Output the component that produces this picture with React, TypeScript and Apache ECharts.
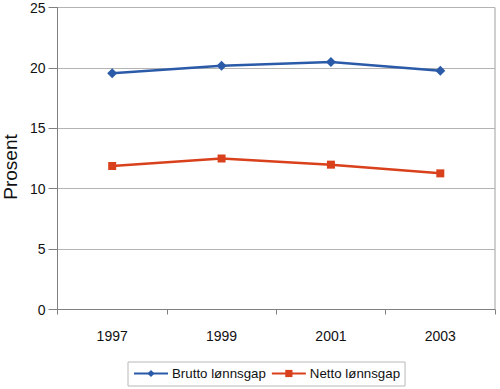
import React, { useEffect, useRef } from "react";
import * as echarts from "echarts";

const years = ["1997", "1999", "2001", "2003"];
const brutto = [19.55, 20.18, 20.49, 19.77];
const netto = [11.88, 12.5, 11.99, 11.27];
const seriesNames = ["Brutto lønnsgap", "Netto lønnsgap"];
const yTitle = "Prosent";

const FONT = "'Liberation Sans', Arial, sans-serif";

export default function App() {
  const ref = useRef<HTMLDivElement>(null);
  useEffect(() => {
    if (!ref.current) return;
    const chart = echarts.init(ref.current, undefined, { renderer: "svg" });
    chart.setOption({
      animation: false,
      backgroundColor: "#ffffff",
      textStyle: { fontFamily: FONT },
      grid: {
        left: 57.5,
        right: 5,
        top: 7.5,
        bottom: 79.5,
        containLabel: false,
        outerBoundsMode: "none",
        show: true,
        borderColor: "#a0a0a0",
        borderWidth: 1,
      },
      graphic: [
        {
          type: "text",
          x: 10,
          y: 167,
          rotation: Math.PI / 2,
          style: {
            text: yTitle,
            fontSize: 19,
            fontFamily: FONT,
            fill: "#111",
            textAlign: "center",
            textVerticalAlign: "middle",
          },
        },
      ],
      legend: {
        data: seriesNames,
        left: 128,
        top: 362,
        padding: [5, 5, 6, 5],
        itemGap: 5,
        itemWidth: 34,
        itemHeight: 9,
        borderColor: "#b8b8b8",
        borderWidth: 1,
        textStyle: { fontSize: 13.3, color: "#111", fontFamily: FONT, padding: [0, 0, 0, -1] },
      },
      xAxis: {
        type: "category",
        data: years,
        boundaryGap: true,
        axisLine: { show: true, lineStyle: { color: "#808080", width: 1 } },
        axisTick: { show: true, interval: 0, length: 5, lineStyle: { color: "#808080" } },
        axisLabel: { fontSize: 14, color: "#111", margin: 19, fontFamily: FONT },
        splitLine: { show: false },
      },
      yAxis: {
        type: "value",
        min: 0,
        max: 25,
        interval: 5,
        axisLine: { show: true, lineStyle: { color: "#808080", width: 1 } },
        axisTick: { show: true, length: 9, lineStyle: { color: "#808080" } },
        axisLabel: { fontSize: 14, color: "#111", margin: 12, fontFamily: FONT },
        splitLine: { show: true, lineStyle: { color: "#b4b4b4", width: 1 } },
      },
      series: [
        {
          name: seriesNames[0],
          type: "line",
          data: brutto,
          symbol: "diamond",
          symbolSize: 10,
          lineStyle: { color: "#2b5ba8", width: 2.5 },
          itemStyle: { color: "#2b5ba8" },
        },
        {
          name: seriesNames[1],
          type: "line",
          data: netto,
          symbol: "rect",
          symbolSize: 8,
          lineStyle: { color: "#d9401c", width: 2.5 },
          itemStyle: { color: "#d9401c" },
        },
      ],
    });
    return () => chart.dispose();
  }, []);
  return <div ref={ref} style={{ width: 500, height: 389, position: "absolute", left: 0, top: 0 }} />;
}
